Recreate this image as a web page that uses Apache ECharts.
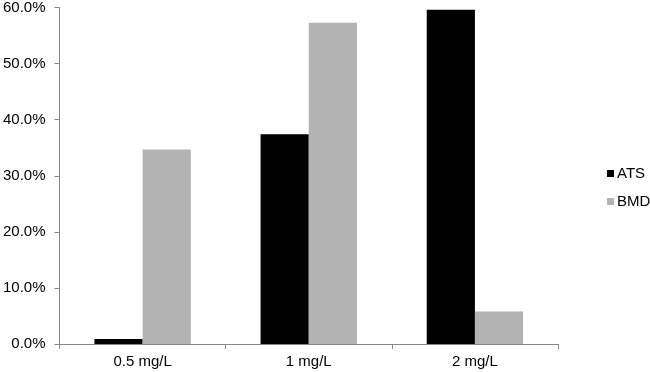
<!DOCTYPE html>
<html>
<head>
<meta charset="utf-8">
<script src="https://cdn.jsdelivr.net/npm/echarts@6/dist/echarts.min.js"></script>
<style>
  html, body { margin: 0; padding: 0; background: #fff; }
  #chart { width: 650px; height: 372px; }
</style>
</head>
<body>
<div id="chart"></div>
<script>
const categories = ['0.5 mg/L', '1 mg/L', '2 mg/L']
const atsValues = [0.9, 37.4, 59.6]
const bmdValues = [34.7, 57.3, 5.8]

const myChart = echarts.init(document.getElementById('chart'))
const font = 'Liberation Sans, Arial, sans-serif'
const option = {
  animation: false,
  grid: { left: 58, right: 92, top: 5, bottom: 28 },
  legend: {
    orient: 'vertical',
    left: 602,
    top: 161,
    itemWidth: 7,
    itemHeight: 7,
    itemGap: 13,
    icon: 'rect',
    textStyle: { fontFamily: font, fontSize: 15, color: '#000', padding: [0, 0, 0, -2] },
    data: ['ATS', 'BMD']
  },
  xAxis: {
    type: 'category',
    data: categories,
    axisLine: { lineStyle: { color: '#888', width: 1 } },
    axisTick: { show: true, length: 5, lineStyle: { color: '#888' } },
    axisLabel: { color: '#000', fontFamily: font, fontSize: 15, margin: 10 }
  },
  yAxis: {
    type: 'value',
    min: 0,
    max: 60,
    interval: 10,
    axisLine: { show: true, lineStyle: { color: '#888', width: 1 } },
    axisTick: { show: true, length: 5, lineStyle: { color: '#888' } },
    splitLine: { show: false },
    axisLabel: {
      color: '#000',
      fontFamily: font,
      fontSize: 15,
      margin: 14,
      formatter: (v) => v.toFixed(1) + '%'
    }
  },
  series: [
    {
      name: 'ATS',
      type: 'bar',
      data: atsValues,
      barGap: '0%',
      barCategoryGap: '42%',
      itemStyle: { color: '#000' }
    },
    {
      name: 'BMD',
      type: 'bar',
      data: bmdValues,
      barGap: '0%',
      barCategoryGap: '42%',
      itemStyle: { color: '#b3b3b3' }
    }
  ]
}
myChart.setOption(option)
</script>
</body>
</html>
